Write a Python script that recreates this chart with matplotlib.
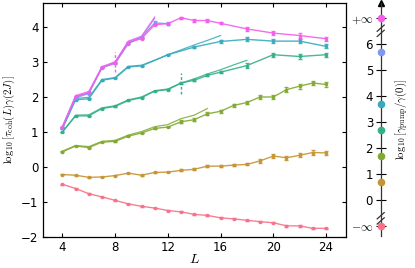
import numpy as np
import matplotlib
matplotlib.use("Agg")
from matplotlib import pyplot as plt
import seaborn as sns

plt.rcParams['mathtext.fontset'] = 'cm'
plt.rcParams['font.size'] = 8.5

# colours: husl palette, from gamma_pump = 0 (pink) up to +inf (magenta)
colors = sns.color_palette("husl", 7)

# ---- data ----
L_full = list(range(4, 25))
L_even_tail = list(range(4, 17)) + [18, 20, 22, 24]

pink_L = L_full
pink_y = [-0.50, -0.62, -0.77, -0.86, -0.96, -1.06, -1.13, -1.18, -1.25, -1.29, -1.36,
          -1.39, -1.46, -1.49, -1.53, -1.57, -1.60, -1.69, -1.69, -1.76, -1.76]
pink_err = [0.01] * 9 + [0.015] * 6 + [0.02] * 6

orange_L = L_full
orange_y = [-0.22, -0.24, -0.30, -0.29, -0.25, -0.18, -0.24, -0.16, -0.15, -0.10, -0.07,
            0.02, 0.02, 0.05, 0.07, 0.17, 0.31, 0.26, 0.33, 0.41, 0.40]
orange_err = [0.01] * 9 + [0.03] * 6 + [0.06] * 6

green_L = L_full
green_y = [0.43, 0.60, 0.55, 0.71, 0.73, 0.88, 0.97, 1.10, 1.14, 1.29, 1.35,
           1.52, 1.59, 1.76, 1.84, 2.00, 2.00, 2.21, 2.31, 2.40, 2.36]
green_err = [0.01] * 9 + [0.04] * 6 + [0.07] * 6

teal_L = L_even_tail
teal_y = [1.00, 1.46, 1.46, 1.67, 1.73, 1.90, 1.98, 2.17, 2.21, 2.40, 2.48, 2.62, 2.71,
          2.90, 3.21, 3.16, 3.21]
teal_err = [0.01] * 9 + [0.03] * 4 + [0.06] * 4

cyan_L = list(range(4, 11)) + [12, 14, 16, 18, 20, 22, 24]
cyan_y = [1.10, 1.92, 1.95, 2.48, 2.54, 2.86, 2.89, 3.21, 3.43, 3.59, 3.65, 3.60, 3.60, 3.45]
cyan_err = [0.01] * 8 + [0.04] * 2 + [0.06] * 4

peri_L = list(range(4, 13))
peri_y = [1.12, 1.98, 2.10, 2.84, 2.96, 3.53, 3.71, 4.12, 4.10]
peri_err = [0.01] * 7 + [0.05] * 2

mag_L = L_even_tail
mag_y = [1.14, 2.02, 2.13, 2.85, 2.98, 3.56, 3.67, 4.07, 4.10, 4.27, 4.19, 4.19, 4.11,
         3.95, 3.83, 3.76, 3.67]
mag_err = [0.01] * 9 + [0.03] * 4 + [0.06] * 4

# thin companion curves (no markers)
mag_ex_L = list(range(4, 12))
mag_ex_y = [1.16, 2.04, 2.16, 2.87, 3.01, 3.60, 3.74, 4.29]
peri_ex_L = list(range(4, 12))
peri_ex_y = [1.13, 2.00, 2.12, 2.85, 2.99, 3.58, 3.72, 4.25]
cyan_ex_L = list(range(4, 17))
cyan_ex_y = [1.10, 1.96, 1.99, 2.50, 2.56, 2.88, 2.91, 3.05, 3.21, 3.35, 3.49, 3.62, 3.76]
teal_ex_L = list(range(4, 19))
teal_ex_y = [1.00, 1.48, 1.49, 1.69, 1.75, 1.92, 2.00, 2.18, 2.23, 2.40, 2.52, 2.66, 2.78,
             2.92, 3.05]
green_ex_L = list(range(4, 16))
green_ex_y = [0.45, 0.61, 0.58, 0.73, 0.76, 0.91, 1.01, 1.15, 1.21, 1.38, 1.48, 1.67]

# dashed markers
mag_dash = (8, 2.71, 3.29)
teal_dash = (13, 2.08, 2.69)

# right-hand scale: log10(gamma_pump / gamma(0)); -1 and 7 stand for -inf and +inf
pump_vals = [-1, 0.7, 1.7, 2.7, 3.7, 5.7, 7]
pump_ticks = [-1, 0, 1, 2, 3, 4, 5, 6, 7]
pump_labels = [r'$-\infty$', '0', '1', '2', '3', '4', '5', '6', r'$+\infty$']

W, H = 415, 268
fig = plt.figure(figsize=(W / 100, H / 100), dpi=100)
ax = fig.add_axes([42.7 / W, 1 - 236.7 / H, 303 / W, 234 / H])

series = [
    (pink_L, pink_y, pink_err, 0),
    (orange_L, orange_y, orange_err, 1),
    (green_L, green_y, green_err, 2),
    (teal_L, teal_y, teal_err, 3),
    (cyan_L, cyan_y, cyan_err, 4),
    (peri_L, peri_y, peri_err, 5),
    (mag_L, mag_y, mag_err, 6),
]
extras = [
    (green_ex_L, green_ex_y, 2),
    (teal_ex_L, teal_ex_y, 3),
    (cyan_ex_L, cyan_ex_y, 4),
    (peri_ex_L, peri_ex_y, 5),
    (mag_ex_L, mag_ex_y, 6),
]

for xs, ys, ci in extras:
    ax.plot(xs, ys, color=colors[ci], lw=0.9, alpha=0.85)

for xs, ys, err, ci in series:
    ax.errorbar(xs, ys, yerr=err, color=colors[ci], lw=1.0, marker='s', ms=2,
                capsize=1.5, elinewidth=0.9, alpha=0.9)

for (xd, y0, y1), ci in [(mag_dash, 6), (teal_dash, 3)]:
    ax.plot([xd, xd], [y0, y1], color=colors[ci], lw=1.0, ls=(0, (2, 1.5)))

ax.set_xlim(2.5, 25.5)
ax.set_ylim(-2, 4.7)
ax.set_xticks([4, 8, 12, 16, 20, 24])
ax.set_yticks([-2, -1, 0, 1, 2, 3, 4])
ax.tick_params(direction='in', top=True, right=True, length=3, width=0.8, pad=3)
for s in ax.spines.values():
    s.set_linewidth(0.9)
ax.set_xlabel(r'$L$', fontsize=10, labelpad=-1)
ax.set_ylabel(r'$\log_{10}[\tau_{\rm coh}(L)\gamma(2J)]$', fontsize=7.8, labelpad=3)

# right colour scale
top_px, bot_px = 2.7, 236.0
ax2 = fig.add_axes([(380.7 - 10) / W, 1 - bot_px / H, 20 / W, (bot_px - top_px) / H])
ax2.set_xlim(-1, 1)
ax2.set_ylim(-1.38, 7.6)
ax2.patch.set_visible(False)
for k in ['top', 'right', 'bottom']:
    ax2.spines[k].set_visible(False)
ax2.spines['left'].set_position(('data', 0))
ax2.spines['left'].set_linewidth(0.9)
ax2.spines['left'].set_color('#333333')
ax2.set_xticks([])
ax2.set_yticks(pump_ticks)
ax2.set_yticklabels(pump_labels)
ax2.tick_params(axis='y', direction='inout', length=7, width=0.8, pad=2)
ax2.plot(0, 1, marker='^', color='black', ms=4, transform=ax2.get_xaxis_transform(),
         clip_on=False)
for v, c in zip(pump_vals, colors):
    ax2.plot(0, v, 'o', color=c, ms=4.5, clip_on=False, zorder=5)
# axis breaks
for yb in [6.62, -0.6]:
    ax2.plot([-0.35, 0.35], [yb - 0.12, yb + 0.12], color='#333333', lw=0.9, clip_on=False)
    ax2.plot([-0.35, 0.35], [yb - 0.32, yb - 0.08], color='#333333', lw=0.9, clip_on=False)
ax2.yaxis.set_label_position('right')
ax2.set_ylabel(r'$\log_{10}[\gamma_{\rm pump}/\gamma(0)]$', fontsize=7.8, rotation=90,
               labelpad=2)

fig.savefig('out.png', dpi=100)
